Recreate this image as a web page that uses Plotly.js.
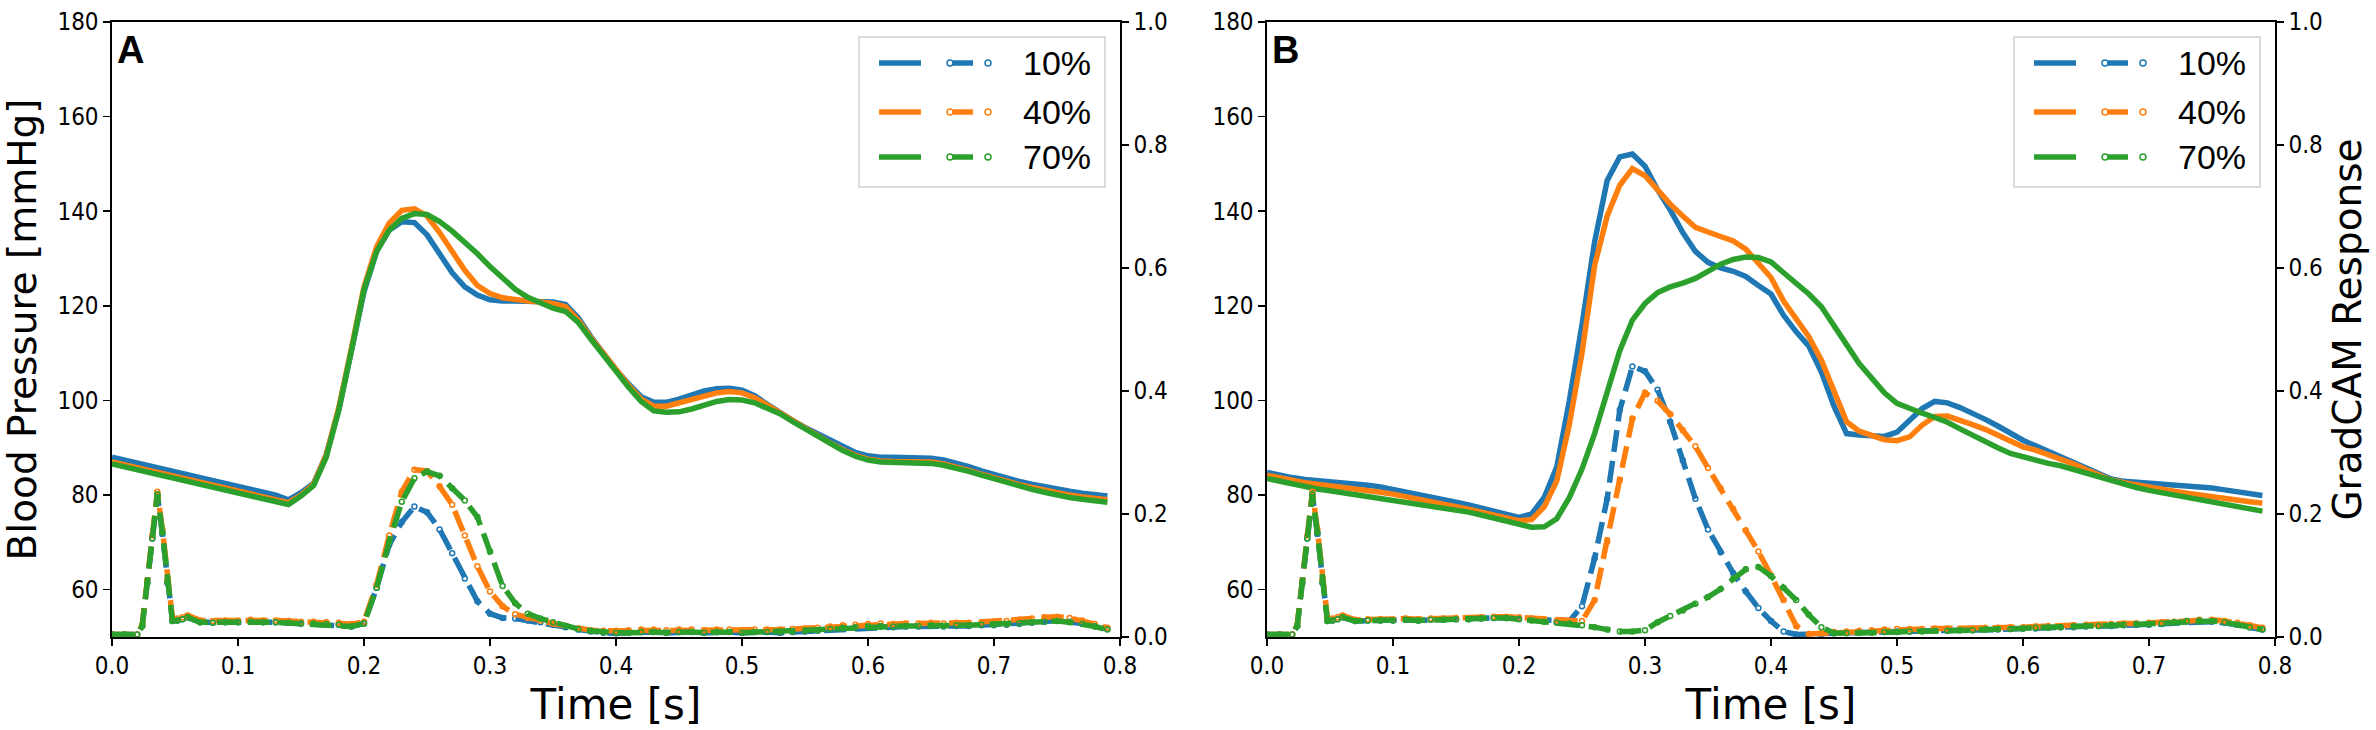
<!DOCTYPE html>
<html>
<head>
<meta charset="utf-8">
<script src="https://cdn.plot.ly/plotly-3.0.1.min.js"></script>
<style>
  html, body { margin: 0; padding: 0; background: #fff; }
  #chart { width: 2376px; height: 730px; }
</style>
</head>
<body>
<div id="chart"></div>
<script>
// time axis of the pressure waves [s]
const tBP = [
  0.00,0.01,0.02,0.03,0.04,0.05,0.06,0.07,0.08,0.09,
  0.10,0.11,0.12,0.13,0.14,0.15,0.16,0.17,0.18,0.19,
  0.20,0.21,0.22,0.23,0.24,0.25,0.26,0.27,0.28,0.29,
  0.30,0.31,0.32,0.33,0.34,0.35,0.36,0.37,0.38,0.39,
  0.40,0.41,0.42,0.43,0.44,0.45,0.46,0.47,0.48,0.49,
  0.50,0.51,0.52,0.53,0.54,0.55,0.56,0.57,0.58,0.59,
  0.60,0.61,0.62,0.63,0.64,0.65,0.66,0.67,0.68,0.69,
  0.70,0.71,0.72,0.73,0.74,0.75,0.76,0.77,0.78,0.79
];

// time axis of the GradCAM responses [s] (denser around the first spike)
const tCam = [
  0.000,0.010,0.020,0.024,0.028,0.032,0.036,0.040,0.044,0.048,
  0.052,0.056,0.060,0.07,0.08,0.09,0.10,0.11,0.12,0.13,
  0.14,0.15,0.16,0.17,0.18,0.19,0.20,0.21,0.22,0.23,
  0.24,0.25,0.26,0.27,0.28,0.29,0.30,0.31,0.32,0.33,
  0.34,0.35,0.36,0.37,0.38,0.39,0.40,0.41,0.42,0.43,
  0.44,0.45,0.46,0.47,0.48,0.49,0.50,0.51,0.52,0.53,
  0.54,0.55,0.56,0.57,0.58,0.59,0.60,0.61,0.62,0.63,
  0.64,0.65,0.66,0.67,0.68,0.69,0.70,0.71,0.72,0.73,
  0.74,0.75,0.76,0.77,0.78,0.79
];

const levels = ['10%', '40%', '70%'];

// panel A, blood pressure [mmHg]
const bpA10 = [
  88.0,87.4,86.8,86.2,85.5,84.9,84.3,83.7,83.0,82.4,
  81.8,81.2,80.6,80.0,79.0,80.5,82.5,88.5,98.0,110.5,
  123.0,131.5,136.0,137.8,137.6,135.0,131.0,127.0,124.0,122.3,
  121.3,121.0,121.0,121.0,121.0,120.8,120.3,117.5,113.5,110.0,
  106.5,103.5,100.8,99.6,99.6,100.3,101.2,102.0,102.5,102.6,
  102.2,101.0,99.2,97.4,95.8,94.3,93.0,91.5,90.2,89.0,
  88.3,88.0,88.0,88.0,88.0,87.8,87.4,86.8,86.0,85.1,
  84.3,83.6,82.9,82.3,81.7,81.2,80.8,80.4,80.1,79.8
];
const bpA40 = [
  87.0,86.4,85.8,85.2,84.6,84.0,83.4,82.8,82.2,81.6,
  81.0,80.4,79.8,79.2,78.4,80.0,82.3,88.5,98.5,111.0,
  124.0,132.5,137.5,140.2,140.5,139.0,135.5,131.5,127.5,124.3,
  122.6,121.7,121.3,121.0,120.8,120.5,119.8,117.0,113.3,109.8,
  106.3,103.2,100.3,98.8,98.8,99.5,100.3,101.0,101.6,101.9,
  101.6,100.6,99.0,97.2,95.5,93.9,92.4,91.0,89.6,88.4,
  87.6,87.2,87.1,87.1,87.1,87.0,86.6,86.0,85.2,84.4,
  83.6,82.9,82.2,81.6,81.0,80.5,80.0,79.6,79.3,79.0
];
const bpA70 = [
  86.6,86.0,85.4,84.8,84.2,83.6,83.0,82.4,81.8,81.2,
  80.6,80.0,79.4,78.8,78.0,79.8,82.0,88.0,98.0,110.5,
  123.5,131.5,136.0,138.5,139.5,139.3,137.8,135.8,133.5,131.0,
  128.3,125.8,123.5,121.8,120.5,119.5,118.8,116.5,113.0,109.5,
  106.0,102.8,99.8,97.8,97.5,97.6,98.2,99.0,99.8,100.2,
  100.1,99.5,98.3,97.2,95.6,94.0,92.4,90.8,89.4,88.2,
  87.4,87.0,86.9,86.9,86.9,86.7,86.3,85.7,85.0,84.2,
  83.4,82.6,81.9,81.2,80.6,80.0,79.5,79.1,78.8,78.5
];

// panel A, GradCAM response
const camA10 = [
  .004,.004,.004,.018,.088,.160,.230,.168,.088,.026,
  .027,.029,.032,.024,.023,.024,.024,.025,.024,.024,
  .023,.022,.022,.021,.020,.017,.022,.080,.150,.187,
  .212,.203,.175,.136,.095,.058,.038,.031,.030,.027,
  .024,.020,.016,.012,.009,.007,.006,.007,.008,.008,
  .007,.008,.008,.007,.008,.008,.007,.008,.008,.007,
  .008,.009,.010,.012,.014,.015,.016,.017,.016,.017,
  .017,.018,.017,.018,.018,.019,.019,.020,.021,.023,
  .025,.027,.025,.022,.018,.013
];
const camA40 = [
  .004,.004,.004,.020,.092,.165,.236,.175,.094,.030,
  .030,.032,.035,.027,.026,.027,.027,.028,.027,.027,
  .026,.025,.025,.024,.023,.021,.025,.085,.165,.236,
  .272,.270,.245,.215,.165,.115,.074,.050,.037,.031,
  .027,.022,.018,.014,.011,.010,.010,.011,.012,.012,
  .011,.012,.012,.011,.012,.012,.011,.012,.012,.012,
  .013,.014,.015,.017,.019,.020,.021,.022,.021,.022,
  .022,.023,.022,.023,.023,.024,.025,.026,.028,.030,
  .032,.033,.031,.027,.021,.015
];
const camA70 = [
  .004,.004,.004,.018,.088,.160,.232,.170,.090,.026,
  .027,.029,.032,.024,.023,.024,.024,.025,.024,.024,
  .023,.022,.022,.021,.020,.017,.022,.080,.155,.220,
  .258,.269,.262,.242,.222,.195,.139,.083,.055,.038,
  .030,.024,.018,.013,.010,.008,.007,.007,.008,.008,
  .007,.008,.008,.007,.008,.008,.007,.008,.008,.008,
  .009,.010,.011,.013,.015,.016,.017,.018,.017,.018,
  .018,.019,.018,.019,.019,.020,.020,.021,.022,.024,
  .025,.026,.024,.021,.017,.012
];

// panel B, blood pressure [mmHg]
const bpB10 = [
  84.8,84.2,83.7,83.3,83.1,82.9,82.7,82.4,82.1,81.7,
  81.2,80.7,80.2,79.6,79.0,78.5,77.9,77.2,76.5,75.9,
  75.3,76.0,79.5,86.0,100.0,116.0,133.5,146.5,151.5,152.1,
  149.5,144.5,140.3,135.5,131.5,129.2,128.0,127.3,126.2,124.3,
  122.5,118.0,114.5,111.5,106.0,98.8,93.0,92.7,92.6,92.4,
  93.3,95.8,98.3,99.8,99.5,98.5,97.4,96.0,94.6,93.0,
  91.6,90.4,89.2,88.0,86.8,85.6,84.4,83.4,82.9,82.7,
  82.5,82.3,82.1,82.0,81.8,81.5,81.1,80.7,80.3,79.9
];
const bpB40 = [
  84.2,83.6,83.1,82.6,82.3,82.0,81.7,81.4,81.0,80.6,
  80.2,79.7,79.2,78.6,78.0,77.5,77.0,76.4,75.8,75.2,
  74.6,74.8,77.5,83.0,95.0,110.0,128.5,139.0,145.5,149.0,
  147.5,144.5,141.5,139.0,136.6,135.6,134.8,133.7,132.0,128.8,
  126.0,121.0,117.2,113.5,108.5,102.0,95.5,93.5,92.5,91.7,
  91.5,92.3,94.8,96.6,96.7,95.9,94.9,93.9,92.6,91.3,
  90.2,89.5,88.6,87.6,86.6,85.4,84.2,83.2,82.6,82.1,
  81.6,81.2,80.8,80.4,80.0,79.7,79.3,79.0,78.6,78.3
];
const bpB70 = [
  83.5,82.9,82.3,81.8,81.3,80.9,80.5,80.1,79.7,79.3,
  78.9,78.5,78.1,77.7,77.3,76.9,76.4,75.8,75.1,74.4,
  73.7,73.2,73.3,75.0,79.5,85.5,93.0,102.0,110.5,117.0,
  120.5,122.8,124.0,124.8,125.8,127.3,128.8,129.8,130.3,130.2,
  129.3,127.0,124.8,122.5,119.8,116.0,111.8,107.8,104.5,101.6,
  99.4,98.2,97.3,96.4,95.4,94.0,92.6,91.3,90.0,88.8,
  88.0,87.3,86.7,86.2,85.4,84.7,84.0,83.2,82.4,81.6,
  81.0,80.5,80.0,79.5,79.0,78.5,78.0,77.5,77.0,76.6
];

// panel B, GradCAM response
const camB10 = [
  .004,.004,.004,.018,.088,.160,.230,.168,.088,.026,
  .027,.029,.032,.026,.027,.027,.027,.028,.027,.028,
  .028,.029,.029,.030,.031,.031,.030,.028,.026,.025,
  .026,.050,.128,.225,.369,.440,.432,.402,.350,.287,
  .225,.175,.138,.104,.074,.047,.026,.009,.004,.004,
  .005,.006,.007,.007,.008,.008,.009,.009,.010,.010,
  .010,.011,.011,.012,.012,.013,.014,.014,.015,.016,
  .016,.017,.018,.018,.019,.020,.020,.021,.023,.025,
  .026,.025,.023,.020,.016,.012
];
const camB40 = [
  .004,.004,.004,.020,.092,.165,.236,.175,.094,.030,
  .030,.032,.035,.028,.029,.029,.029,.030,.029,.030,
  .030,.031,.031,.032,.033,.033,.032,.030,.028,.027,
  .026,.026,.060,.155,.255,.355,.397,.384,.362,.336,
  .310,.275,.242,.208,.173,.139,.100,.060,.018,.005,
  .006,.008,.009,.010,.011,.012,.013,.013,.013,.014,
  .014,.014,.014,.015,.015,.016,.016,.017,.018,.018,
  .019,.020,.020,.021,.022,.022,.023,.024,.025,.026,
  .028,.028,.026,.023,.019,.015
];
const camB70 = [
  .004,.004,.004,.018,.088,.160,.232,.170,.090,.026,
  .027,.029,.032,.026,.027,.027,.027,.028,.027,.028,
  .028,.029,.029,.030,.031,.031,.029,.027,.025,.023,
  .022,.019,.016,.012,.009,.009,.011,.024,.034,.043,
  .054,.065,.078,.095,.110,.114,.099,.080,.060,.036,
  .016,.006,.006,.007,.007,.008,.008,.009,.009,.010,
  .010,.011,.011,.012,.013,.013,.014,.015,.015,.016,
  .017,.018,.018,.019,.020,.021,.021,.022,.024,.026,
  .027,.026,.024,.020,.016,.012
];

const colors = ['#1f77b4', '#ff7f0e', '#2ca02c'];

// figure geometry in pixels (matches the matplotlib export)
const FW = 2376, FH = 730;
const AX_TOP = 22, AX_BOT = 637, AX_W = 1008;
const PANEL_LEFT = [112, 1267];
const px = x => x / FW;
const py = y => 1 - y / FH;

const LW = 5.5;
const tickFont = { family: 'Liberation Sans Narrow, DejaVu Sans Condensed, Liberation Sans, sans-serif', size: 24, color: '#000' };
const titleFamily = 'DejaVu Sans, sans-serif';

const panels = [
  { bp: [bpA10, bpA40, bpA70], cam: [camA10, camA40, camA70], xa: 'x', yl: 'y', yr: 'y2' },
  { bp: [bpB10, bpB40, bpB70], cam: [camB10, camB40, camB70], xa: 'x2', yl: 'y3', yr: 'y4' }
];

const traces = [];
panels.forEach(p => {
  p.bp.forEach((vals, i) => traces.push({
    x: tBP, y: vals, xaxis: p.xa, yaxis: p.yl, type: 'scatter', mode: 'lines',
    name: levels[i], line: { color: colors[i], width: LW }, hoverinfo: 'skip'
  }));
});
panels.forEach(p => {
  p.cam.forEach((vals, i) => traces.push({
    x: tCam, y: vals, xaxis: p.xa, yaxis: p.yr, type: 'scatter', mode: 'lines+markers',
    name: levels[i] + ' GradCAM',
    line: { color: colors[i], width: LW, dash: '22px,9px' },
    marker: { symbol: 'circle-open', size: 5, color: colors[i], line: { width: 1.5, color: colors[i] } },
    hoverinfo: 'skip'
  }));
});

function xAxis(left, anchor) {
  return {
    domain: [px(left), px(left + AX_W)], anchor: anchor, range: [0, 0.8],
    tick0: 0, dtick: 0.1, tickformat: '.1f',
    showline: true, mirror: true, linecolor: '#000', linewidth: 1.6,
    ticks: 'outside', ticklen: 7, tickwidth: 1.5, tickcolor: '#000',
    tickfont: tickFont, showgrid: false, zeroline: false, fixedrange: true,
    title: { text: 'Time [s]', font: { family: titleFamily, size: 42, color: '#000' }, standoff: 6 }
  };
}
function yLeft(anchor, title) {
  const ax = {
    domain: [py(AX_BOT), py(AX_TOP)], anchor: anchor, range: [50, 180], dtick: 20,
    showline: true, linecolor: '#000', linewidth: 1.6,
    ticks: 'outside', ticklen: 7, tickwidth: 1.5, tickcolor: '#000',
    tickfont: tickFont, showgrid: false, zeroline: false, fixedrange: true
  };
  if (title) ax.title = { text: title, font: { family: titleFamily, size: 39, color: '#000' }, standoff: 12 };
  return ax;
}
function yRight(anchor, over, title) {
  const ax = {
    domain: [py(AX_BOT), py(AX_TOP)], anchor: anchor, overlaying: over, side: 'right',
    range: [0, 1], dtick: 0.2, tickformat: '.1f',
    showline: true, linecolor: '#000', linewidth: 1.6,
    ticks: 'outside', ticklen: 7, tickwidth: 1.5, tickcolor: '#000',
    tickfont: tickFont, showgrid: false, zeroline: false, fixedrange: true
  };
  if (title) ax.title = { text: title, font: { family: titleFamily, size: 39, color: '#000' }, standoff: 12 };
  return ax;
}

// legend drawn by hand: matplotlib shows a solid and a dashed sample per row
const shapes = [];
const annotations = [];
PANEL_LEFT.forEach((left, k) => {
  shapes.push({
    type: 'rect', xref: 'paper', yref: 'paper', layer: 'above',
    x0: px(left + 747), x1: px(left + 993), y0: py(37), y1: py(187),
    line: { color: '#d0d0d0', width: 1.5 }, fillcolor: 'rgba(255,255,255,0.85)'
  });
  [63, 112, 157].forEach((row, i) => {
    shapes.push({
      type: 'line', xref: 'paper', yref: 'paper', layer: 'above',
      x0: px(left + 767), x1: px(left + 809), y0: py(row), y1: py(row),
      line: { color: colors[i], width: LW }
    });
    shapes.push({
      type: 'line', xref: 'paper', yref: 'paper', layer: 'above',
      x0: px(left + 838), x1: px(left + 861), y0: py(row), y1: py(row),
      line: { color: colors[i], width: LW }
    });
    [838, 876].forEach(mx => shapes.push({
      type: 'circle', xref: 'paper', yref: 'paper', layer: 'above',
      xsizemode: 'pixel', ysizemode: 'pixel', xanchor: px(left + mx), yanchor: py(row),
      x0: -3, x1: 3, y0: -3, y1: 3,
      line: { color: colors[i], width: 1.5 }, fillcolor: '#ffffff'
    }));
    annotations.push({
      xref: 'paper', yref: 'paper', x: px(left + 909), y: py(row),
      xanchor: 'left', yanchor: 'middle', showarrow: false, text: levels[i],
      font: { family: 'Liberation Sans, sans-serif', size: 34, color: '#000' }
    });
  });
  annotations.push({
    xref: 'paper', yref: 'paper', x: px(left + 3), y: py(AX_TOP + 5),
    xanchor: 'left', yanchor: 'top', showarrow: false, text: '<b>' + (k === 0 ? 'A' : 'B') + '</b>',
    font: { family: 'Liberation Sans, sans-serif', size: 38, color: '#000' }
  });
});

const layout = {
  width: FW, height: FH,
  margin: { l: 0, r: 0, t: 0, b: 0 },
  paper_bgcolor: '#fff', plot_bgcolor: '#fff',
  showlegend: false, hovermode: false,
  xaxis: xAxis(PANEL_LEFT[0], 'y'),
  yaxis: yLeft('x', 'Blood Pressure [mmHg]'),
  yaxis2: yRight('x', 'y', null),
  xaxis2: xAxis(PANEL_LEFT[1], 'y3'),
  yaxis3: yLeft('x2', null),
  yaxis4: yRight('x2', 'y3', 'GradCAM Response'),
  shapes: shapes,
  annotations: annotations
};

Plotly.newPlot('chart', traces, layout, { staticPlot: true, displayModeBar: false });
</script>
</body>
</html>
